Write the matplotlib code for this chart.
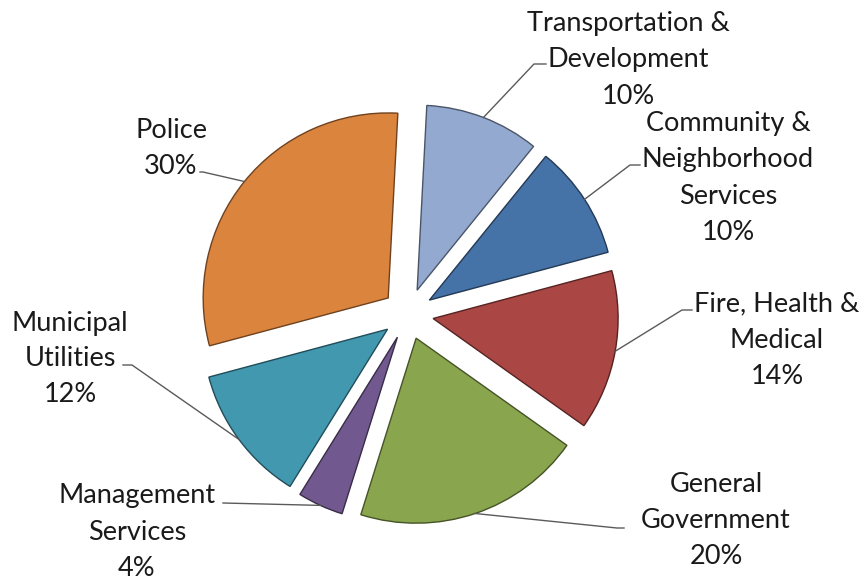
import matplotlib
matplotlib.use("Agg")
import matplotlib.pyplot as plt
import numpy as np
from matplotlib.colors import to_rgb

# ---- data ----
categories = ["Transportation &\nDevelopment", "Community &\nNeighborhood\nServices",
              "Fire, Health &\nMedical", "General\nGovernment", "Management\nServices",
              "Municipal\nUtilities", "Police"]
shares = [10, 10, 14, 20, 4, 12, 30]
colors = ["#93A9D0", "#4572A7", "#AA4643", "#89A54E", "#71588F", "#4198AF", "#DB843D"]

# ---- layout (pixel coordinates) ----
W, H = 864, 580
center = (408, H - 314)
radius = 185
explode_px = 25.5
start_angle = 87
# label centre positions, line elbow and line end points (image coords, y down)
label_pos = [(628, 60), (728, 178), (777, 340), (716, 521), (137, 532), (70, 359), (171, 148)]
elbow_pts = [(534, 64), (630, 165), (682, 310), (617, 528), (317, 505), (132, 365), (203, 172)]
end_pts = [(546, 64), (640, 165), (692, 310), (624, 528), (223, 503), (123, 365), (200, 172)]

plt.rcParams['font.family'] = ['Lato', 'DejaVu Sans']

fig = plt.figure(figsize=(W / 100, H / 100), dpi=100)
ax = fig.add_axes([0, 0, 1, 1])

edge = [tuple(c * 0.5 for c in to_rgb(col)) for col in colors]
wedges, _ = ax.pie(shares, colors=colors, startangle=start_angle, counterclock=False,
                   radius=radius, center=center,
                   explode=[explode_px] * len(shares),
                   wedgeprops=dict(linewidth=1.0))
for w, e in zip(wedges, edge):
    w.set_edgecolor(e)

total = sum(shares)
for i, w in enumerate(wedges):
    mid = np.deg2rad((w.theta1 + w.theta2) / 2)
    cx, cy = w.center
    ax_pt = (cx + w.r * np.cos(mid), cy + w.r * np.sin(mid))
    ex, ey = elbow_pts[i]
    tx, ty = end_pts[i]
    if i == 4:
        xs, ys = [ax_pt[0], tx], [ax_pt[1], H - ty]
    else:
        xs, ys = [ax_pt[0], ex, tx], [ax_pt[1], H - ey, H - ty]
    ax.plot(xs, ys, color="#5a5a5a", linewidth=1.0, zorder=1)
    lx, ly = label_pos[i]
    pct = f"{round(100 * shares[i] / total)}%"
    ax.text(lx, H - ly, f"{categories[i]}\n{pct}", ha="center", va="center",
            fontsize=19.5, color="#1a1a1a", linespacing=1.55)

ax.set_xlim(0, W)
ax.set_ylim(0, H)
ax.set_aspect("equal")
ax.axis("off")
fig.savefig("out.png", dpi=100)
